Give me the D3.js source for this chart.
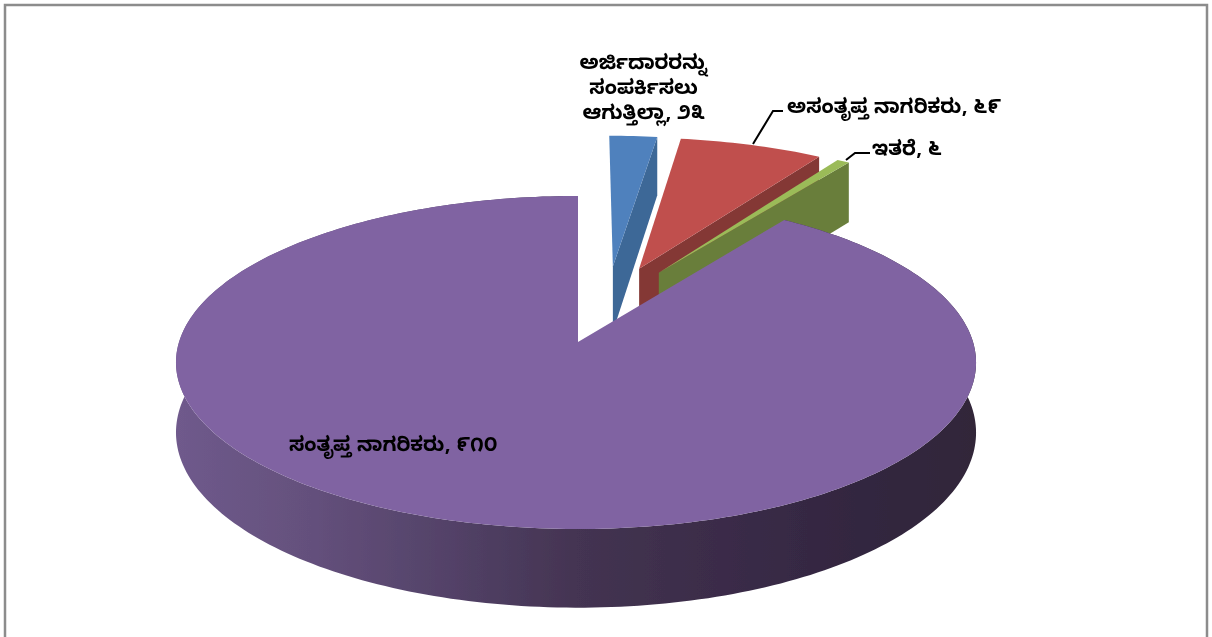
<!DOCTYPE html>
<html><head><meta charset="utf-8">
<script src="https://cdn.jsdelivr.net/npm/d3@7"></script>
<style>html,body{margin:0;padding:0;background:#fff}svg{display:block}
text{font-family:"Noto Sans Kannada","Noto Sans","DejaVu Sans",sans-serif;font-weight:700;fill:#000;font-size:20px}</style>
</head><body><svg id="c" width="1212" height="637"></svg>
<script>
const categories = ["ಅರ್ಜಿದಾರರನ್ನು ಸಂಪರ್ಕಿಸಲು ಆಗುತ್ತಿಲ್ಲಾ", "ಅಸಂತೃಪ್ತ ನಾಗರಿಕರು", "ಇತರೆ", "ಸಂತೃಪ್ತ ನಾಗರಿಕರು"];
const values = [23, 69, 6, 910];
const valueLabels = ["೨೩", "೬೯", "೬", "೯೧೦"];
const topColors = ["#4f81bd", "#c0504d", "#9bbb59", "#8064a2"];
const sideColors = ["#3d6797", "#843836", "#697e3b", "url(#sideGrad)"];

const svg = d3.select("#c");
const defs = svg.append("defs");
defs.append("filter").attr("id","soft").append("feGaussianBlur").attr("stdDeviation",0.5);

// chart frame (no bottom edge)
svg.append("path").attr("d", d3.line()([[5,637],[5,5],[1207,5],[1207,637]]))
   .attr("fill","none").attr("stroke","#8c8c8c").attr("stroke-width",2.5);

// gradient for big slice wall
const grad = defs.append("linearGradient").attr("id","sideGrad")
  .attr("gradientUnits","userSpaceOnUse").attr("x1",175).attr("x2",976).attr("y1",0).attr("y2",0);
[[0,"#6f5a8c"],[0.17,"#64507c"],[0.34,"#534268"],[0.5,"#443452"],[0.65,"#3c2d4a"],[0.85,"#332640"],[1,"#312539"]]
  .forEach(([o,c])=>grad.append("stop").attr("offset",o).attr("stop-color",c));

// projection of the pie plane: perspective homography around the big slice's tip
const cx = 578, cy = 342, B = 397, A = 164, k = 0.123, explode = 0.25, wall = 69, bigRimShift = -0.005;
const proj = (u,v) => { const w = 1 + k*v; return [cx + B*u/w, cy - A*v/w]; };
const drop = (u,v) => wall/(1 + k*v);

const arcs = d3.pie().sort(null).startAngle(0).endAngle(2*Math.PI)(values);
const bis = a => (a.startAngle + a.endAngle)/2;
const last = arcs[arcs.length-1];
const ox = explode*Math.sin(bis(last)), oy = explode*Math.cos(bis(last));
const line = d3.line();
const plot = svg.append("g").attr("filter","url(#soft)");

arcs.forEach((a,i)=>{
  const ax = explode*Math.sin(bis(a)) - ox, ay = explode*Math.cos(bis(a)) - oy;
  const n = Math.max(2, Math.ceil((a.endAngle-a.startAngle)/0.02));
  const angles = d3.range(n+1).map(j=>a.startAngle + (a.endAngle-a.startAngle)*j/n);
  const big = i === arcs.length-1;
  const rim = angles.map(t=>[ax+(big ? bigRimShift*Math.sin(t)**2 : 0)+Math.sin(t), ay+Math.cos(t)]);
  const g = plot.append("g");
  if (!big) {
    // radial wall seen along the right-hand cut
    const tip = rim[rim.length-1];
    const p1 = proj(...tip), p2 = proj(ax,ay);
    g.append("path").attr("fill",sideColors[i]).attr("d", line([
      p1, p2, [p2[0], p2[1]+drop(ax,ay)], [p1[0], p1[1]+drop(...tip)]
    ])+"Z");
  } else {
    const top = rim.map(p=>proj(...p));
    const bottom = rim.map(p=>{const q=proj(...p); return [q[0], q[1]+drop(...p)];}).reverse();
    g.append("path").attr("fill",sideColors[i]).attr("d", line(top.concat(bottom))+"Z");
  }
  g.append("path").attr("fill",topColors[i])
   .attr("d", line([proj(ax,ay)].concat(rim.map(p=>proj(...p))))+"Z");
});

// leader lines
[[[753,144],[773,111],[783,111]], [[846,160],[855,153],[870,153]]].forEach(pts=>
  plot.append("path").attr("d",line(pts)).attr("fill","none").attr("stroke","#000").attr("stroke-width",2));

// labels
const labelRows = [
  {x:643.5,y:69,a:"middle",t:"ಅರ್ಜಿದಾರರನ್ನು"},
  {x:643.5,y:94,a:"middle",t:"ಸಂಪರ್ಕಿಸಲು"},
  {x:643.5,y:119,a:"middle",t:"ಆಗುತ್ತಿಲ್ಲಾ, "+valueLabels[0]},
  {x:787,y:113,a:"start",t:categories[1]+", "+valueLabels[1]},
  {x:872,y:155,a:"start",t:categories[2]+", "+valueLabels[2]},
  {x:289,y:451,a:"start",t:categories[3]+", "+valueLabels[3]}
];
plot.selectAll("text.l").data(labelRows).join("text").attr("class","l")
  .attr("x",d=>d.x).attr("y",d=>d.y).attr("text-anchor",d=>d.a).text(d=>d.t);
</script></body></html>
